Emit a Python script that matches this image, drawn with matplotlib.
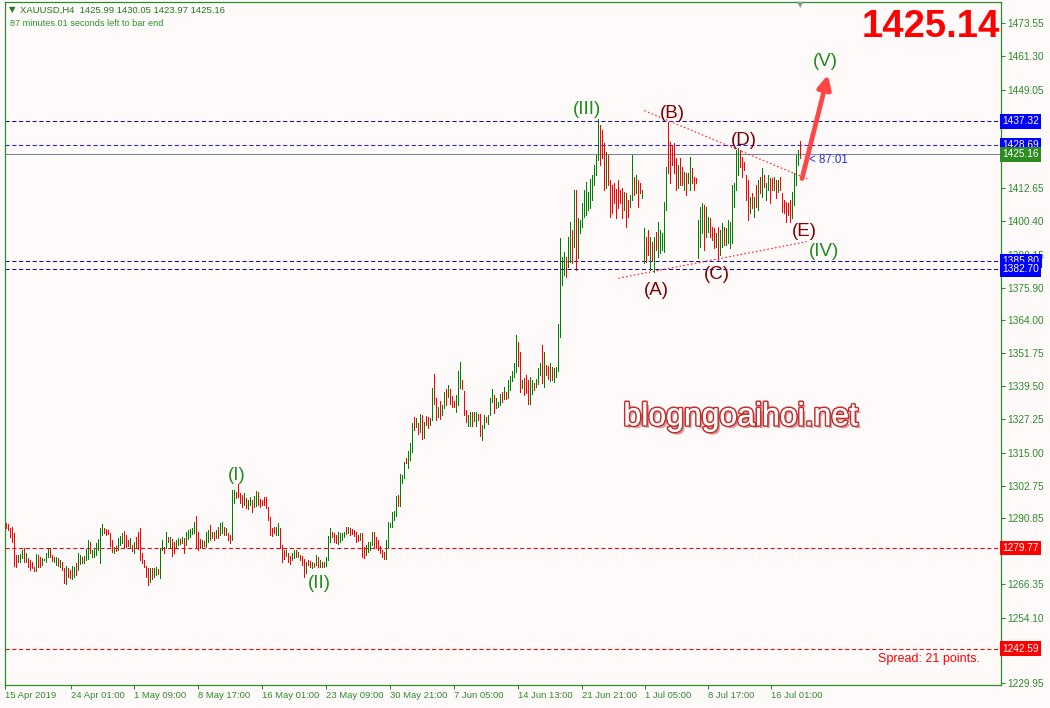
import matplotlib
matplotlib.use('Agg')
import matplotlib.pyplot as plt
import matplotlib.patheffects as pe
import numpy as np

# H4 XAUUSD bars (high, low, direction), oldest first
highs = [
    1288.9, 1288.6, 1287.1, 1287.7, 1285.2, 1277.2, 1277.2, 1277.6, 1279.0, 1279.7,
    1277.8, 1276.0, 1275.4, 1274.7, 1272.9, 1277.6, 1277.2, 1276.6, 1276.0, 1275.6,
    1277.8, 1279.7, 1279.7, 1277.2, 1276.6, 1276.3, 1276.0, 1275.4, 1274.7, 1272.3,
    1273.1, 1272.3, 1271.7, 1273.1, 1272.9, 1274.1, 1278.1, 1277.2, 1276.6, 1276.8,
    1279.3, 1282.7, 1282.1, 1279.0, 1279.7, 1281.5, 1283.0, 1287.1, 1288.6, 1287.1,
    1286.7, 1286.4, 1285.2, 1282.7, 1280.3, 1280.5, 1283.4, 1284.2, 1285.2, 1286.2,
    1284.6, 1282.7, 1283.4, 1280.9, 1282.1, 1284.0, 1285.8, 1287.1, 1277.8, 1275.4,
    1273.1, 1272.3, 1272.3, 1272.3, 1272.3, 1272.6, 1271.9, 1279.7, 1282.7, 1280.3,
    1285.8, 1284.0, 1283.7, 1283.0, 1282.1, 1282.7, 1283.4, 1283.0, 1283.7, 1283.4,
    1285.8, 1286.4, 1286.7, 1287.1, 1289.5, 1291.6, 1285.8,
    1283.0, 1282.7, 1282.5, 1285.8, 1286.4, 1288.3, 1285.8, 1285.8, 1286.4, 1287.7,
    1288.9, 1289.5, 1287.7, 1287.0, 1285.2, 1284.6, 1301.2, 1301.2, 1300.6, 1303.4,
    1300.0, 1299.3, 1300.0, 1298.1, 1297.5, 1298.7, 1297.5, 1299.0, 1300.9, 1300.6,
    1297.7, 1297.5, 1298.7, 1298.7, 1295.0, 1291.3, 1287.0, 1287.7, 1287.7, 1288.9,
    1287.0, 1280.9, 1279.0, 1279.0, 1277.8, 1276.8, 1277.8, 1279.0, 1279.0, 1278.4,
    1277.2, 1276.8, 1275.6, 1274.7, 1275.3, 1275.1, 1274.7, 1274.4, 1277.2, 1276.3,
    1275.3, 1274.7, 1274.7, 1276.6, 1284.2, 1287.0, 1285.8, 1285.2, 1284.6, 1285.8,
    1285.2, 1285.2, 1285.8, 1287.7, 1287.4, 1287.0, 1286.7, 1286.4, 1285.8, 1284.6,
    1285.2, 1285.4, 1280.0, 1280.9, 1282.1, 1282.1, 1285.8, 1285.8, 1284.0, 1282.7,
    1280.5, 1279.0, 1278.4, 1282.7, 1289.5,
    1289.1, 1293.2, 1293.6, 1299.0, 1299.3, 1307.1, 1306.7, 1311.7, 1312.9, 1315.7,
    1318.4, 1326.1, 1328.0, 1327.7, 1325.8, 1329.3, 1328.9, 1326.4, 1328.5, 1328.0,
    1327.7, 1338.7, 1344.0, 1335.0, 1331.7, 1334.2, 1332.6, 1337.5, 1338.4, 1340.0,
    1338.4, 1335.9, 1334.2, 1336.3, 1345.3, 1348.3, 1341.8, 1337.9, 1330.7, 1328.9,
    1330.1, 1330.1, 1330.1, 1330.1, 1329.3, 1329.3, 1325.2, 1328.9, 1328.3, 1328.9,
    1335.3, 1338.5, 1336.3, 1335.0, 1333.8, 1336.6, 1337.5, 1339.1, 1337.5, 1341.8,
    1343.3, 1345.3, 1348.0, 1358.4, 1356.0, 1352.3, 1341.8, 1342.4, 1343.7, 1341.8,
    1343.0, 1341.8, 1340.6, 1342.2, 1346.1, 1348.2, 1354.7, 1352.3, 1347.4, 1347.0,
    1348.0, 1346.7, 1346.1, 1346.7, 1362.5,
    1394.1, 1387.4, 1389.2, 1387.4, 1394.7, 1400.3, 1397.2, 1412.0, 1412.0, 1401.5,
    1400.9, 1407.1, 1412.0, 1415.1, 1411.4, 1415.9, 1417.5, 1421.2, 1424.9, 1438.1,
    1436.0, 1434.1, 1429.2, 1426.1, 1424.9, 1415.7, 1413.8, 1414.4, 1412.2, 1415.7,
    1412.0, 1412.6, 1411.4, 1410.7, 1408.3, 1410.1, 1424.9, 1416.9, 1417.5, 1415.7,
    1414.4, 1412.0, 1397.8, 1394.7, 1397.2, 1394.7, 1392.9, 1394.7, 1396.6, 1400.3,
    1397.2, 1396.0, 1407.7, 1420.6, 1437.2, 1429.8, 1428.6, 1429.2, 1423.7, 1421.2,
    1423.7, 1420.6, 1418.7, 1418.1, 1418.1, 1424.3, 1420.0, 1416.9, 1416.3, 1400.9,
    1405.8, 1407.1, 1406.4, 1405.8, 1402.1, 1401.5, 1398.4, 1397.8, 1396.0, 1398.4,
    1397.2, 1399.7, 1398.4, 1397.8, 1400.9, 1400.3, 1413.8, 1414.4, 1426.8, 1427.4,
    1426.8, 1424.3, 1422.4, 1417.5, 1415.7, 1409.5, 1410.7, 1409.5, 1413.8, 1415.7,
    1416.9, 1420.0, 1417.5, 1414.4, 1417.5, 1416.3, 1416.3, 1416.7, 1415.7, 1415.7,
    1416.9, 1410.7, 1408.3, 1407.7, 1407.1, 1408.3, 1411.4, 1418.1, 1424.9, 1426.8,
    1430.05,
]
lows = [
    1287.1, 1286.4, 1284.0, 1282.1, 1273.1, 1272.9, 1274.7, 1274.7, 1276.0, 1274.7,
    1274.7, 1272.6, 1271.7, 1272.3, 1271.4, 1271.3, 1272.6, 1272.6, 1273.5, 1275.2,
    1274.7, 1276.6, 1276.3, 1275.0, 1274.7, 1273.5, 1273.1, 1272.9, 1271.7, 1266.7,
    1266.5, 1269.2, 1268.6, 1268.3, 1269.2, 1269.8, 1271.7, 1273.9, 1274.1, 1274.4,
    1275.4, 1275.6, 1278.1, 1276.3, 1276.6, 1277.2, 1279.0, 1274.1, 1284.6, 1285.2,
    1284.6, 1285.0, 1280.5, 1278.4, 1278.1, 1278.7, 1279.0, 1280.9, 1281.8, 1279.7,
    1280.3, 1280.5, 1279.7, 1278.8, 1277.8, 1279.7, 1279.3, 1275.4, 1274.4, 1272.6,
    1269.2, 1266.1, 1267.3, 1268.2, 1269.2, 1269.8, 1270.2, 1268.6, 1279.0, 1277.8,
    1279.7, 1282.1, 1279.7, 1276.8, 1277.8, 1280.3, 1280.9, 1281.3, 1281.5, 1278.1,
    1280.9, 1283.0, 1284.0, 1285.0, 1285.2, 1280.3, 1279.0,
    1279.6, 1280.0, 1280.5, 1280.0, 1282.1, 1282.7, 1283.4, 1282.7, 1283.4, 1283.4,
    1284.6, 1285.2, 1284.6, 1284.6, 1282.7, 1281.7, 1282.7, 1296.3, 1298.1, 1298.7,
    1296.3, 1295.0, 1295.7, 1294.4, 1294.1, 1295.7, 1293.2, 1295.0, 1295.3, 1295.7,
    1295.0, 1295.7, 1295.7, 1294.4, 1290.1, 1284.6, 1284.2, 1285.2, 1284.6, 1284.6,
    1279.6, 1274.7, 1275.6, 1276.8, 1274.7, 1273.9, 1275.3, 1276.0, 1276.3, 1276.3,
    1275.3, 1273.5, 1269.2, 1270.4, 1273.5, 1272.9, 1272.3, 1272.9, 1273.5, 1272.9,
    1272.6, 1272.9, 1272.6, 1273.1, 1275.3, 1282.1, 1284.0, 1282.1, 1281.7, 1281.2,
    1282.1, 1282.7, 1284.0, 1284.9, 1285.2, 1284.6, 1284.9, 1284.2, 1282.1, 1282.5,
    1282.7, 1276.3, 1276.0, 1277.2, 1278.4, 1279.0, 1280.9, 1279.6, 1279.6, 1279.0,
    1278.0, 1276.6, 1275.6, 1275.6, 1280.3,
    1287.4, 1287.7, 1290.1, 1291.6, 1295.3, 1295.3, 1303.9, 1305.5, 1311.0, 1309.2,
    1312.3, 1315.4, 1323.4, 1324.6, 1321.9, 1322.7, 1319.9, 1320.3, 1325.2, 1324.0,
    1325.2, 1327.0, 1332.9, 1327.0, 1328.0, 1327.3, 1328.9, 1331.3, 1332.6, 1335.7,
    1332.9, 1332.0, 1331.7, 1330.1, 1332.6, 1338.7, 1338.4, 1328.9, 1326.4, 1324.8,
    1324.8, 1324.8, 1326.8, 1324.8, 1327.0, 1321.1, 1319.7, 1324.0, 1326.4, 1325.6,
    1328.9, 1333.8, 1329.8, 1331.4, 1332.0, 1332.6, 1333.8, 1334.7, 1334.7, 1335.0,
    1338.1, 1341.6, 1342.8, 1344.9, 1347.0, 1337.5, 1338.7, 1336.3, 1337.1, 1333.0,
    1333.0, 1336.6, 1338.1, 1339.1, 1340.3, 1343.7, 1340.6, 1339.1, 1343.7, 1342.1,
    1341.6, 1341.8, 1341.2, 1343.0, 1345.0,
    1357.8, 1376.9, 1380.6, 1380.0, 1383.7, 1385.5, 1384.9, 1391.1, 1382.4, 1386.8,
    1396.0, 1398.4, 1402.1, 1402.8, 1404.6, 1405.2, 1408.3, 1413.8, 1417.5, 1423.1,
    1421.2, 1423.7, 1412.0, 1412.6, 1413.8, 1402.1, 1403.4, 1407.1, 1401.5, 1405.2,
    1407.1, 1401.5, 1404.6, 1398.4, 1402.1, 1405.8, 1408.3, 1410.1, 1410.7, 1405.8,
    1410.7, 1408.9, 1384.9, 1385.5, 1388.0, 1382.4, 1386.1, 1381.8, 1389.8, 1387.4,
    1388.6, 1389.8, 1389.2, 1404.6, 1418.1, 1414.4, 1421.2, 1418.1, 1412.0, 1412.6,
    1413.8, 1413.8, 1412.0, 1410.1, 1414.4, 1412.0, 1414.4, 1412.0, 1414.4, 1386.8,
    1391.1, 1396.0, 1389.8, 1394.7, 1396.6, 1394.7, 1393.5, 1390.4, 1391.1, 1386.1,
    1388.0, 1391.1, 1391.7, 1391.7, 1392.3, 1390.4, 1392.3, 1405.8, 1412.0, 1417.5,
    1420.6, 1416.9, 1419.4, 1408.3, 1400.9, 1403.4, 1405.2, 1402.1, 1405.8, 1404.6,
    1410.7, 1409.5, 1413.2, 1408.3, 1412.0, 1407.1, 1412.0, 1412.0, 1408.9, 1411.4,
    1412.0, 1404.0, 1403.4, 1400.3, 1402.8, 1400.3, 1401.5, 1406.4, 1413.8, 1421.2,
    1423.97,
]
# G = bull bar, R = bear bar
direction = (
    "RRRRRRGGGR" "GRRRRGRRGG" "GGRRGGRGRR" "GRRGGRGGRG" "GGRGGGGGGR"
    "RRRRGRGGGR" "RRGRGRRRRR" "RRGRGGRGGR" "GRGRRGGRGR" "GGGGGRR"
    "RGRGGRGRGR" "GGRGRRGGRR" "RRGRGGRGGR" "RRRRRRRRGG" "RRRGRRGGRG"
    "RRRGRRGRGR" "GRGGGGRRRG" "GGGRGRRRRR" "GRRGGGGRRR" "RRRGG"
    "GGGGRGGGRG" "GGRGRGRGRR" "GGRRGRGGRG" "RRRGGGRRRG" "GRGGRRGGRG"
    "GGRGGGRGRG" "GGGGRRGRRR" "GGRGGGRGRR" "GRGGG"
    "GGGRGGRGRG" "GGGGGGGGGG" "RRRGRRRRRR" "RRGRRGGRGR" "RGGRRGRGRG"
    "GGGGRRRRRG" "RRGRGGRRRG" "GGRGGRRRGR" "GGRGGGGGGG" "RRRRRGRGRG"
    "RGRGGRRGRG" "RRRRRRGGGG" "R"
)

levels_blue = [1437.32, 1428.69, 1385.80, 1382.70]
level_bid = 1425.16
levels_red = [1279.77, 1242.59]
price_ticks = [1473.55, 1461.30, 1449.05, 1412.65, 1400.40, 1388.15, 1375.90,
               1364.00, 1351.75, 1339.50, 1327.25, 1315.00, 1302.75, 1290.85,
               1266.35, 1254.10, 1229.95]
time_ticks = [-0.5, 32.3, 64.2, 96.2, 128.2, 160.2, 192, 224, 256, 288, 319.4, 350.9, 382.4]
time_labels = ['15 Apr 2019', '24 Apr 01:00', '1 May 09:00', '8 May 17:00', '16 May 01:00',
               '23 May 09:00', '30 May 21:00', '7 Jun 05:00', '14 Jun 13:00', '21 Jun 21:00',
               '1 Jul 05:00', '8 Jul 17:00', '16 Jul 01:00']

# Elliott wave labels: text, bar position, price, colour
waves = [('(I)', 115.5, 1306.7, 'g'), ('(II)', 156.5, 1266.5, 'g'),
         ('(III)', 290.5, 1441.6, 'g'), ('(A)', 325, 1374.8, 'r'),
         ('(B)', 333, 1440.2, 'r'), ('(C)', 355.5, 1380.9, 'r'),
         ('(D)', 369, 1430.3, 'r'), ('(E)', 399, 1396.8, 'r'),
         ('(IV)', 409, 1389.2, 'g'), ('(V)', 409.5, 1459.3, 'g')]
# triangle trendlines (bar, price) pairs
upper_trend = [(319.2, 1441.3), (401.2, 1415.9)]
lower_trend = [(306.2, 1379.4), (400.4, 1392.9)]
arrow_from = (398.0, 1416.2)
arrow_to = (411.0, 1454.5)

BG = '#FFFAFA'
FG = '#2E8B2E'
BULL = '#008000'
BEAR = '#FF0000'
FONT = 'Liberation Sans'

n = len(highs)
x = np.arange(n)
cols = [BULL if d == 'G' else BEAR for d in direction[:n]]

fig = plt.figure(figsize=(10.5, 7.08), dpi=100, facecolor=BG)
ax = fig.add_axes([5 / 1050, 23 / 708, 996 / 1050, 683 / 708])
ax.set_facecolor(BG)
ax.set_xlim(-0.5, 497.5)
ax.set_ylim(1229.18, 1481.41)

ax.vlines(x, lows, highs, colors=cols, lw=0.6, antialiased=False, zorder=3)

dash = (0, (4, 2.5))
ax.axhline(level_bid, color='#778899', lw=0.75, zorder=2)
for lv in levels_blue:
    c = '#2020FF' if lv == 1428.69 else '#1010A0'
    ax.axhline(lv, color=c, lw=0.75, ls=dash, zorder=2)
for lv in levels_red:
    ax.axhline(lv, color='#FF0000', lw=0.75, ls=dash, zorder=2)

for seg in (upper_trend, lower_trend):
    ax.plot([seg[0][0], seg[1][0]], [seg[0][1], seg[1][1]], color='#FF2020',
            lw=0.8, ls=(0, (1.5, 2)), zorder=4)

ax.annotate('', xy=arrow_to, xytext=arrow_from,
            arrowprops=dict(arrowstyle='-|>,head_length=0.8,head_width=0.4',
                            color='#FF4545', lw=3.4, shrinkA=0, shrinkB=0), zorder=6)

for txt, wx, wy, c in waves:
    col = '#1E8C1E' if c == 'g' else '#800000'
    ax.text(wx, wy, txt, color=col, fontsize=13.5, family=FONT, ha='center', va='center',
            zorder=7)

ax.text(0.739, 0.392, 'blogngoaihoi.net', transform=ax.transAxes, color='white',
        fontsize=23, family=FONT, ha='center', va='center', zorder=8,
        path_effects=[pe.SimplePatchShadow(offset=(2, -2), shadow_rgbFace='#A03030', alpha=0.45),
                      pe.withStroke(linewidth=2.4, foreground='#C83030'),
                      pe.Normal()])

ax.text(401.5, level_bid - 2.0, '< 87:01', color='#1E32E6', fontsize=8.3, family=FONT,
        ha='left', va='center', zorder=7)

# frame and axes
for s in ax.spines.values():
    s.set_color(FG)
    s.set_linewidth(0.9)
ax.yaxis.tick_right()
ax.set_yticks(price_ticks)
ax.set_yticklabels(['%.2f' % v for v in price_ticks])
ax.tick_params(axis='y', colors=FG, labelcolor=FG, length=3, width=0.8, pad=1.5,
               labelsize=7.3)
ax.set_xticks(time_ticks)
ax.set_xticklabels(time_labels, ha='left')
ax.tick_params(axis='x', colors=FG, labelcolor=FG, length=3, width=0.8, pad=1.5,
               labelsize=6.8)
for lab in ax.get_xticklabels() + ax.get_yticklabels():
    lab.set_family(FONT)

ytr = ax.get_yaxis_transform()
for lv, fc in [(levels_blue[0], '#0000FF'), (levels_blue[1], '#0000FF'),
               (level_bid, '#2E8B22'), (levels_blue[2], '#0000FF'),
               (levels_blue[3], '#0000FF'), (levels_red[0], '#FF0000'),
               (levels_red[1], '#FF0000')]:
    ax.text(1.0015, lv, '%.2f' % lv, transform=ytr, color='white', fontsize=7.3,
            family=FONT, ha='left', va='center', zorder=10, clip_on=False,
            bbox=dict(boxstyle='square,pad=0.22', fc=fc, ec='none'))

fig.text(1000 / 1050, 1 - 27 / 708, '1425.14', color='#FF0000', fontsize=27.5,
         weight='bold', family=FONT, ha='right', va='center')
fig.text(20 / 1050, 1 - 10 / 708, 'XAUUSD,H4  1425.99 1430.05 1423.97 1425.16',
         color='#1E7B1E', fontsize=6.8, family=FONT, ha='left', va='center')
fig.text(10 / 1050, 1 - 23 / 708, '87 minutes 01 seconds left to bar end',
         color='#2A962A', fontsize=6.6, family=FONT, ha='left', va='center')
fig.text(12 / 1050, 1 - 10 / 708, '\u25bc', color='#1E7B1E', fontsize=6,
         family='DejaVu Sans', ha='center', va='center')
fig.text(800 / 1050, 1 - 5 / 708, '\u25bc', color='#7FA07F', fontsize=6,
         family='DejaVu Sans', ha='center', va='center')
fig.text(980 / 1050, 1 - 659 / 708, 'Spread: 21 points.', color='#FF0000',
         fontsize=9, family=FONT, ha='right', va='center')

fig.savefig('out.png', dpi=100, facecolor=BG)
